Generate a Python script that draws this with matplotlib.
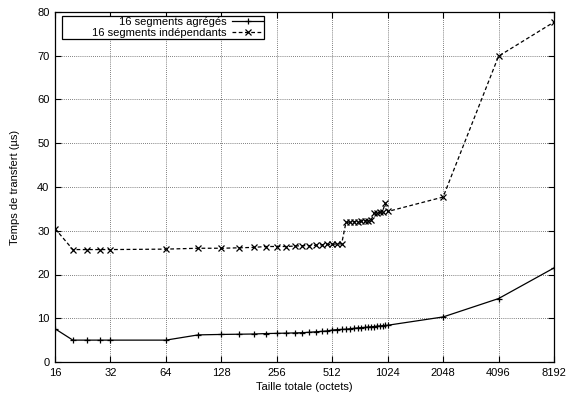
import numpy as np
import matplotlib
matplotlib.use("Agg")
import matplotlib.pyplot as plt

plt.rcParams['font.family'] = ['Liberation Sans', 'DejaVu Sans']

sizes = [16, 20, 24, 28, 32, 64, 96, 128, 160, 192, 224, 256, 288, 320, 352,
         384, 416, 448, 480, 512, 544, 576, 608, 640, 672, 704, 736, 768, 800,
         832, 864, 896, 928, 960, 992, 1024, 2048, 4096, 8192]

agreges = [7.6, 5.0, 5.0, 5.0, 5.0, 5.0, 6.2, 6.3, 6.35, 6.4, 6.5, 6.55, 6.6,
           6.65, 6.7, 6.8, 6.9, 7.0, 7.1, 7.3, 7.4, 7.45, 7.5, 7.6, 7.7, 7.8,
           7.85, 7.9, 8.0, 8.05, 8.1, 8.2, 8.25, 8.3, 8.35, 8.4, 10.3, 14.5, 21.5]

independants = [30.5, 25.7, 25.7, 25.7, 25.7, 25.8, 26.0, 26.0, 26.1, 26.2,
                26.4, 26.4, 26.4, 26.5, 26.6, 26.6, 26.7, 26.8, 26.9, 26.9,
                27.0, 27.0, 31.9, 32.0, 32.1, 32.1, 32.2, 32.3, 32.3, 32.4,
                34.0, 34.1, 34.2, 34.3, 36.3, 34.4, 37.7, 69.9, 77.7]

xticks = [16, 32, 64, 128, 256, 512, 1024, 2048, 4096, 8192]
yticks = [0, 10, 20, 30, 40, 50, 60, 70, 80]

fig = plt.figure(figsize=(5.67, 4.01), dpi=100)
ax = fig.add_axes([55 / 567, 1 - 362 / 401, 499 / 567, 350 / 401])

ax.plot(sizes, agreges, color='black', linewidth=0.9, marker='+',
        markersize=5, markeredgewidth=0.9, label="16 segments agrégés")
ax.plot(sizes, independants, color='black', linewidth=0.9, linestyle=(0, (3, 2)),
        marker='x', markersize=4.5, markeredgewidth=0.9,
        label="16 segments indépendants")

ax.set_xscale('log', base=2)
ax.set_xlim(16, 8192)
ax.set_ylim(0, 80)
ax.set_xticks(xticks)
ax.set_xticklabels([str(t) for t in xticks])
ax.set_yticks(yticks)
ax.minorticks_off()
ax.tick_params(direction='in', top=True, right=True, labelsize=8, length=4,
               width=0.8, pad=4)
ax.grid(True, color='#555555', linestyle=(0, (1, 1.5)), linewidth=0.6)
for s in ax.spines.values():
    s.set_linewidth(0.9)

ax.set_xlabel("Taille totale (octets)", fontsize=8, labelpad=3)
ax.set_ylabel("Temps de transfert (µs)", fontsize=8, labelpad=12)

leg = ax.legend(loc='upper left', bbox_to_anchor=(0.014, 0.989), fontsize=8,
                markerfirst=False, fancybox=False, edgecolor='black',
                framealpha=1, borderpad=0.1, labelspacing=0.1,
                handlelength=2.8, handletextpad=0.5, borderaxespad=0.0)
leg.get_frame().set_linewidth(0.9)
# gnuplot style: labels right aligned, wider box
col = leg._legend_handle_box.get_children()[0]
col.align = 'right'
col.width = 200

plt.savefig('out.png', dpi=100)
